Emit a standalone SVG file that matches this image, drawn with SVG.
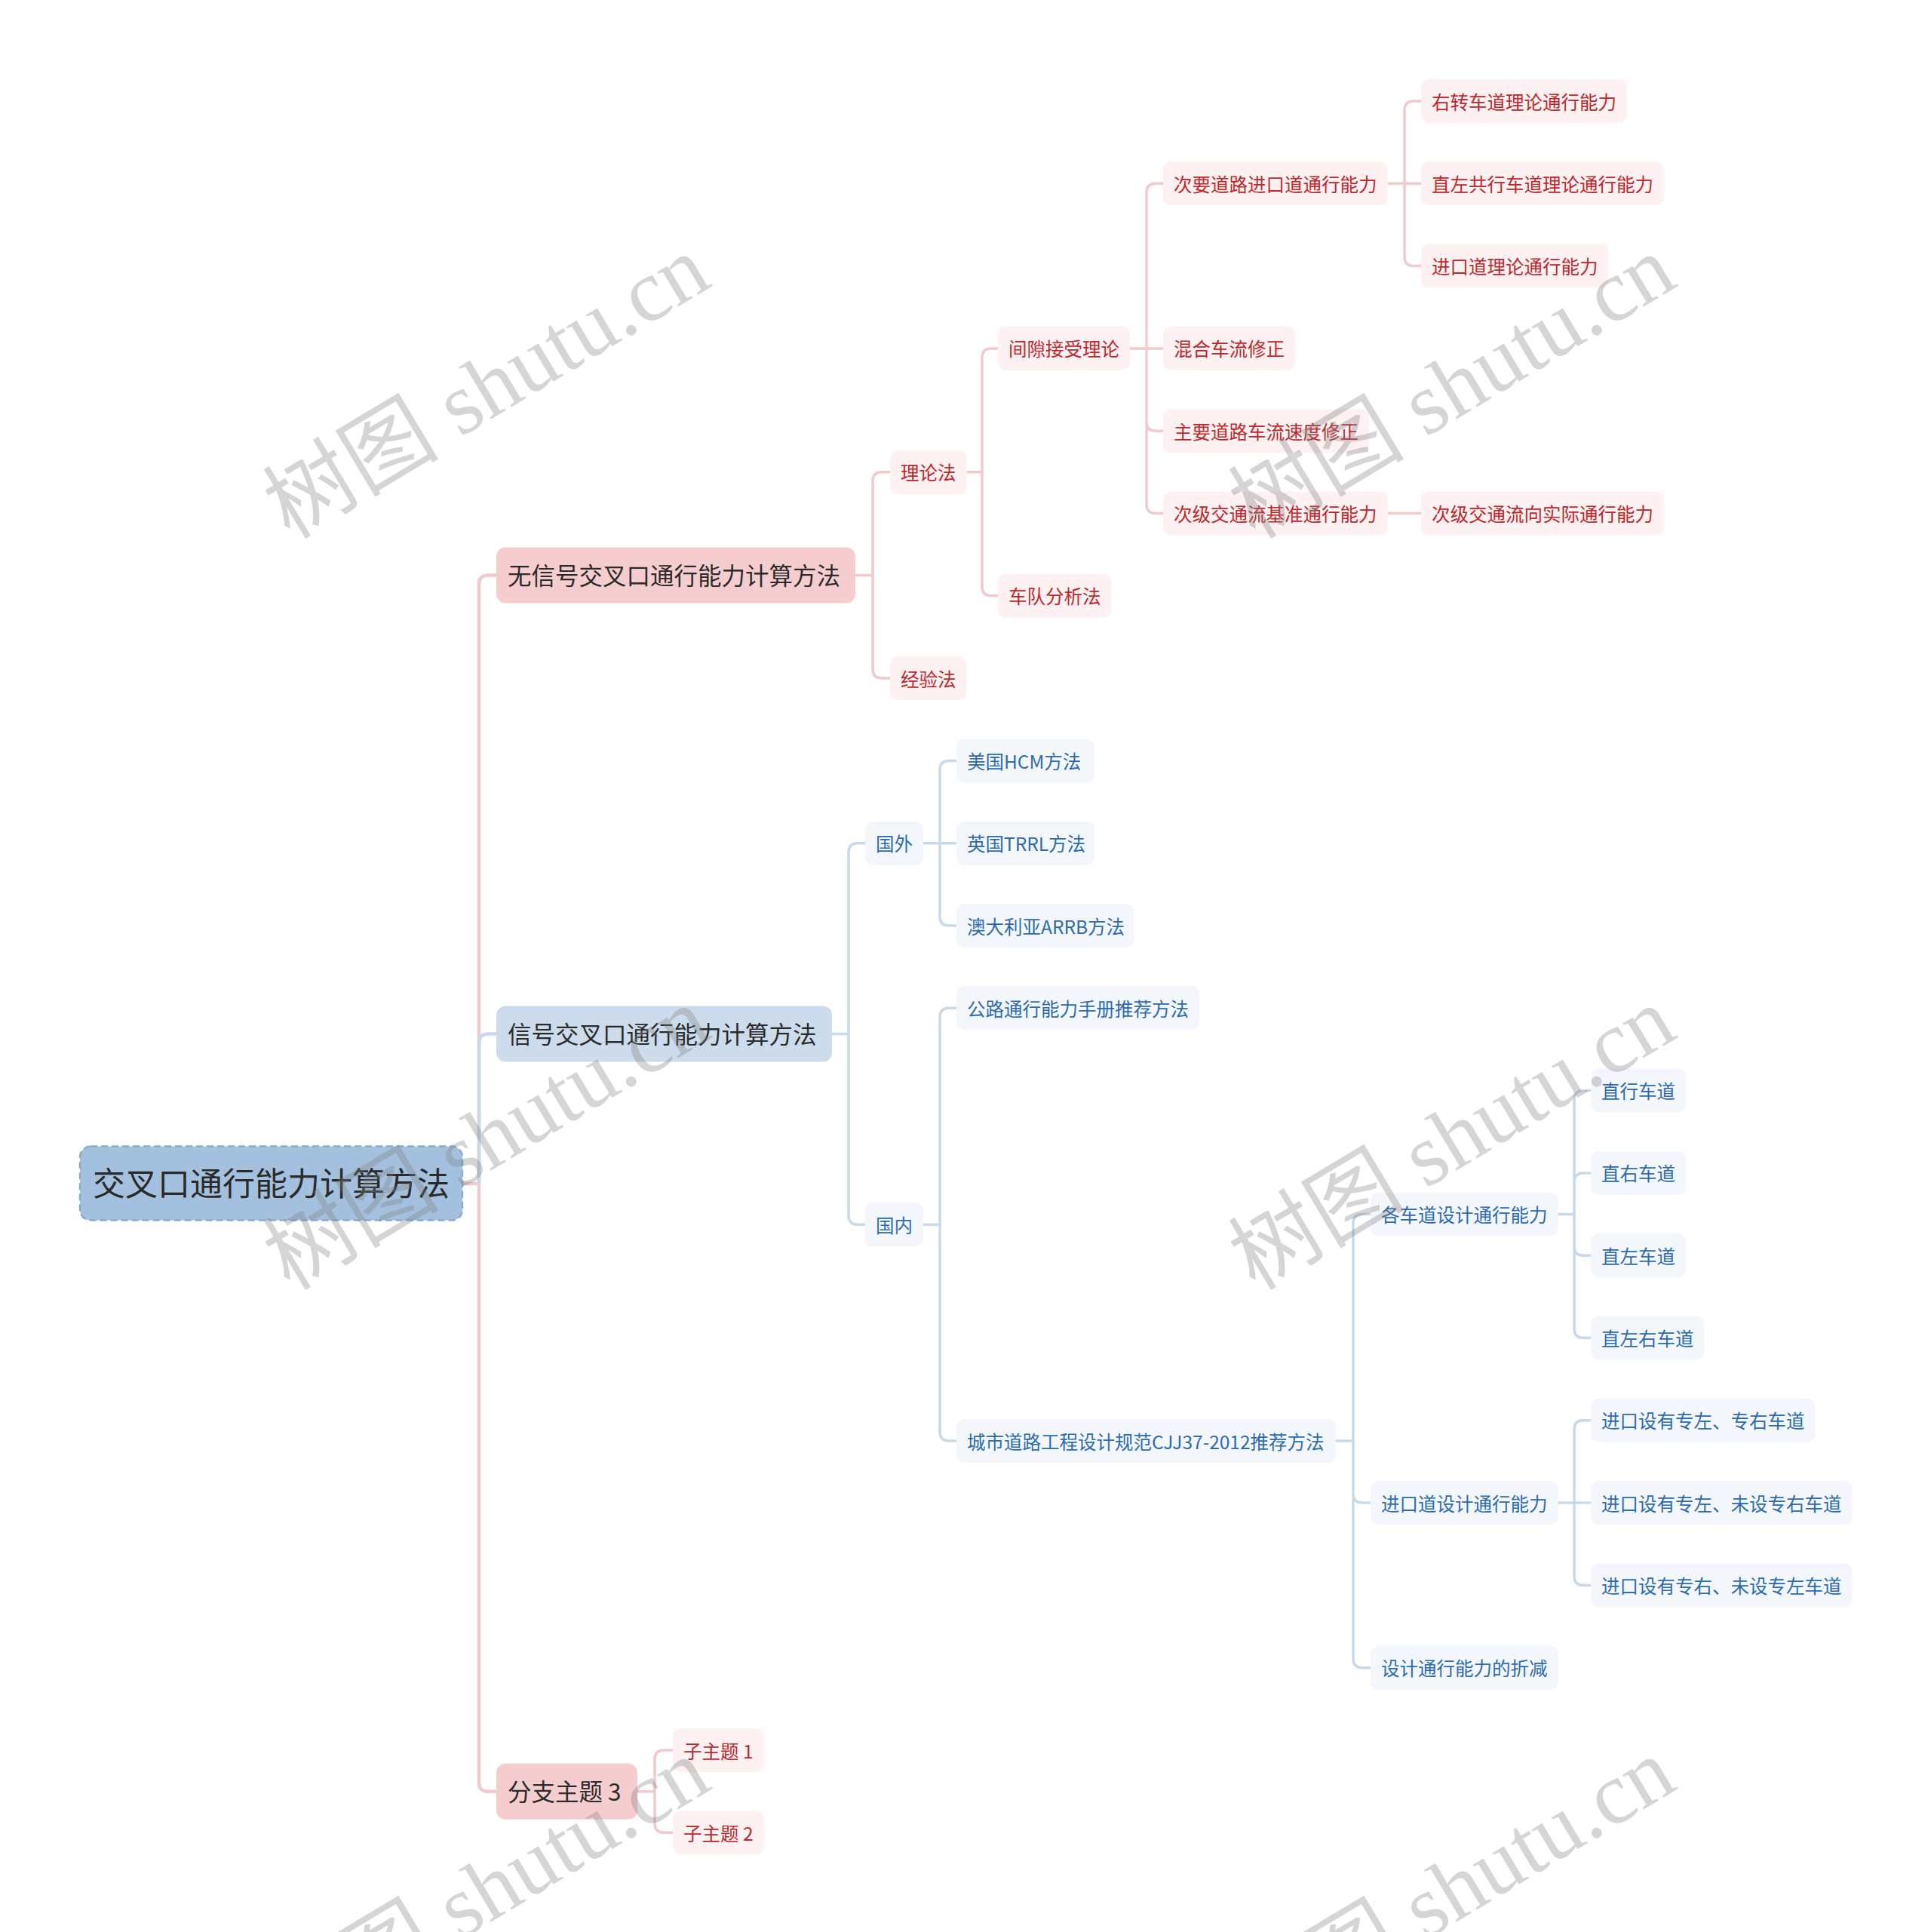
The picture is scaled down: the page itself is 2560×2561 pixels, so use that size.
<svg xmlns="http://www.w3.org/2000/svg" width="2560" height="2561" viewBox="0 0 2560 2561">
<style>
text{font-family:"Noto Sans CJK SC","Noto Sans",sans-serif;dominant-baseline:central}
.root rect{fill:#a3c0de;stroke:#8aabcf;stroke-width:2.5;stroke-dasharray:9 5}
.root text{font-size:43px;fill:#2a2a2a;text-anchor:middle}
.br rect{fill:#f5cdce}
.bb rect{fill:#ccdcec}
.br text,.bb text{font-size:31.5px;fill:#2b2b2b}
.lr rect{fill:#fdf1f1}
.lr text{font-size:24.5px;fill:#c0272d}
.lb rect{fill:#f3f7fb}
.lb text{font-size:24.5px;fill:#2d6bb0}
.cr{fill:none;stroke:#f0cacc;stroke-width:3.5}
.cb{fill:none;stroke:#c9d9e9;stroke-width:3.5}
.trunk{stroke-width:4.5}
.wm{font-family:"Liberation Serif","Noto Sans CJK SC",serif;font-size:117px;fill:#7f7f7f;fill-opacity:0.33;text-anchor:middle;dominant-baseline:central}
</style>
<g id="connectors">
<path class="cr trunk" d="M613,1569 H635 M635,1569 V774.5 Q635,762.5 647,762.5 H658 M635,1569 V2362.65 Q635,2374.65 647,2374.65 H658"/>
<path class="cb trunk" d="M635,1569 V1382.45 Q635,1370.45 647,1370.45 H658"/>
<path class="cr" d="M1134,762.5 H1157 M1157,762.5 V637.85 Q1157,625.85 1169,625.85 H1180 M1157,762.5 V887.1 Q1157,899.1 1169,899.1 H1180"/>
<path class="cr" d="M1281.5,625.85 H1302 M1302,625.85 V473.9 Q1302,461.9 1314,461.9 H1323 M1302,625.85 V777.8 Q1302,789.8 1314,789.8 H1323"/>
<path class="cr" d="M1498,461.9 H1542 M1520,461.9 V255.3 Q1520,243.3 1532,243.3 H1542 M1520,461.9 V559.2 Q1520,571.2 1532,571.2 H1542 M1520,461.9 V668.5 Q1520,680.5 1532,680.5 H1542"/>
<path class="cr" d="M1839.5,243.3 H1884 M1862,243.3 V146 Q1862,134 1874,134 H1884 M1862,243.3 V340.6 Q1862,352.6 1874,352.6 H1884"/>
<path class="cr" d="M1839.5,680.5 H1884"/>
<path class="cb" d="M1103,1370.45 H1125 M1125,1370.45 V1129.7 Q1125,1117.7 1137,1117.7 H1147 M1125,1370.45 V1611.2 Q1125,1623.2 1137,1623.2 H1147"/>
<path class="cb" d="M1224,1117.7 H1268 M1246,1117.7 V1020.4 Q1246,1008.4 1258,1008.4 H1268 M1246,1117.7 V1215 Q1246,1227 1258,1227 H1268"/>
<path class="cb" d="M1224,1623.2 H1246 M1246,1623.2 V1348.3 Q1246,1336.3 1258,1336.3 H1268 M1246,1623.2 V1898.1 Q1246,1910.1 1258,1910.1 H1268"/>
<path class="cb" d="M1771,1910.1 H1794 M1794,1910.1 V1621.55 Q1794,1609.55 1806,1609.55 H1817 M1794,1910.1 V1980.1 Q1794,1992.1 1806,1992.1 H1817 M1794,1910.1 V2198.7 Q1794,2210.7 1806,2210.7 H1817"/>
<path class="cb" d="M2065.5,1609.55 H2087 M2087,1609.55 V1457.6 Q2087,1445.6 2099,1445.6 H2109 M2087,1609.55 V1566.9 Q2087,1554.9 2099,1554.9 H2109 M2087,1609.55 V1652.2 Q2087,1664.2 2099,1664.2 H2109 M2087,1609.55 V1761.5 Q2087,1773.5 2099,1773.5 H2109"/>
<path class="cb" d="M2065.5,1992.1 H2109 M2087,1992.1 V1894.8 Q2087,1882.8 2099,1882.8 H2109 M2087,1992.1 V2089.4 Q2087,2101.4 2099,2101.4 H2109"/>
<path class="cr" d="M845,2374.65 H868 M868,2374.65 V2332 Q868,2320 880,2320 H892 M868,2374.65 V2417.3 Q868,2429.3 880,2429.3 H892"/>
</g>
<g id="root" class="root"><rect x="106" y="1519.6" width="507" height="98" rx="14"/><text x="359.5" y="1566">交叉口通行能力计算方法</text></g>
<g id="b1" class="br"><rect x="658" y="725.5" width="476" height="74" rx="12"/><text x="673" y="761">无信号交叉口通行能力计算方法</text></g>
<g id="b2" class="bb"><rect x="658" y="1333.45" width="445" height="74" rx="12"/><text x="673" y="1369">信号交叉口通行能力计算方法</text></g>
<g id="b3" class="br"><rect x="658" y="2337.65" width="187" height="74" rx="12"/><text x="673" y="2373">分支主题 3</text></g>
<g id="n-lilun" class="lr"><rect x="1180" y="596.85" width="101.5" height="58" rx="10"/><text x="1194" y="625.85">理论法</text></g>
<g id="n-jingyan" class="lr"><rect x="1180" y="870.1" width="101.5" height="58" rx="10"/><text x="1194" y="899.1">经验法</text></g>
<g id="n-jianxi" class="lr"><rect x="1323" y="432.9" width="175" height="58" rx="10"/><text x="1337" y="461.9">间隙接受理论</text></g>
<g id="n-chedui" class="lr"><rect x="1323" y="760.8" width="150.5" height="58" rx="10"/><text x="1337" y="789.8">车队分析法</text></g>
<g id="n-ciyao" class="lr"><rect x="1542" y="214.3" width="297.5" height="58" rx="10"/><text x="1556" y="243.3">次要道路进口道通行能力</text></g>
<g id="n-hunhe" class="lr"><rect x="1542" y="432.9" width="175" height="58" rx="10"/><text x="1556" y="461.9">混合车流修正</text></g>
<g id="n-zhuyao" class="lr"><rect x="1542" y="542.2" width="273" height="58" rx="10"/><text x="1556" y="571.2">主要道路车流速度修正</text></g>
<g id="n-jizhun" class="lr"><rect x="1542" y="651.5" width="297.5" height="58" rx="10"/><text x="1556" y="680.5">次级交通流基准通行能力</text></g>
<g id="n-youzhuan" class="lr"><rect x="1884" y="105" width="273" height="58" rx="10"/><text x="1898" y="134">右转车道理论通行能力</text></g>
<g id="n-zhizuo" class="lr"><rect x="1884" y="214.3" width="322" height="58" rx="10"/><text x="1898" y="243.3">直左共行车道理论通行能力</text></g>
<g id="n-jinkou" class="lr"><rect x="1884" y="323.6" width="248.5" height="58" rx="10"/><text x="1898" y="352.6">进口道理论通行能力</text></g>
<g id="n-shiji" class="lr"><rect x="1884" y="651.5" width="322" height="58" rx="10"/><text x="1898" y="680.5">次级交通流向实际通行能力</text></g>
<g id="n-guowai" class="lb"><rect x="1147" y="1088.7" width="77" height="58" rx="10"/><text x="1161" y="1117.7">国外</text></g>
<g id="n-guonei" class="lb"><rect x="1147" y="1594.2" width="77" height="58" rx="10"/><text x="1161" y="1623.2">国内</text></g>
<g id="n-hcm" class="lb"><rect x="1268" y="979.4" width="183" height="58" rx="10"/><text x="1282" y="1008.4">美国HCM方法</text></g>
<g id="n-trrl" class="lb"><rect x="1268" y="1088.7" width="183" height="58" rx="10"/><text x="1282" y="1117.7">英国TRRL方法</text></g>
<g id="n-arrb" class="lb"><rect x="1268" y="1198" width="235" height="58" rx="10"/><text x="1282" y="1227">澳大利亚ARRB方法</text></g>
<g id="n-gonglu" class="lb"><rect x="1268" y="1307.3" width="322" height="58" rx="10"/><text x="1282" y="1336.3">公路通行能力手册推荐方法</text></g>
<g id="n-chengshi" class="lb"><rect x="1268" y="1881.1" width="503" height="58" rx="10"/><text x="1282" y="1910.1">城市道路工程设计规范CJJ37-2012推荐方法</text></g>
<g id="n-gechedao" class="lb"><rect x="1817" y="1580.55" width="248.5" height="58" rx="10"/><text x="1831" y="1609.55">各车道设计通行能力</text></g>
<g id="n-jinkoudao" class="lb"><rect x="1817" y="1963.1" width="248.5" height="58" rx="10"/><text x="1831" y="1992.1">进口道设计通行能力</text></g>
<g id="n-zhejian" class="lb"><rect x="1817" y="2181.7" width="248.5" height="58" rx="10"/><text x="1831" y="2210.7">设计通行能力的折减</text></g>
<g id="n-zhixing" class="lb"><rect x="2109" y="1416.6" width="126" height="58" rx="10"/><text x="2123" y="1445.6">直行车道</text></g>
<g id="n-zhiyou" class="lb"><rect x="2109" y="1525.9" width="126" height="58" rx="10"/><text x="2123" y="1554.9">直右车道</text></g>
<g id="n-zhizuocd" class="lb"><rect x="2109" y="1635.2" width="126" height="58" rx="10"/><text x="2123" y="1664.2">直左车道</text></g>
<g id="n-zhizuoyou" class="lb"><rect x="2109" y="1744.5" width="150.5" height="58" rx="10"/><text x="2123" y="1773.5">直左右车道</text></g>
<g id="n-zuoyou" class="lb"><rect x="2109" y="1853.8" width="297.5" height="58" rx="10"/><text x="2123" y="1882.8">进口设有专左、专右车道</text></g>
<g id="n-zuoweiyou" class="lb"><rect x="2109" y="1963.1" width="346.5" height="58" rx="10"/><text x="2123" y="1992.1">进口设有专左、未设专右车道</text></g>
<g id="n-youweizuo" class="lb"><rect x="2109" y="2072.4" width="346.5" height="58" rx="10"/><text x="2123" y="2101.4">进口设有专右、未设专左车道</text></g>
<g id="n-zi1" class="lr"><rect x="892" y="2291" width="121" height="58" rx="10"/><text x="906" y="2320">子主题 1</text></g>
<g id="n-zi2" class="lr"><rect x="892" y="2400.3" width="121" height="58" rx="10"/><text x="906" y="2429.3">子主题 2</text></g>
<g id="watermarks">
<text class="wm" transform="translate(645,513) rotate(-31)">树图 shutu.cn</text>
<text class="wm" transform="translate(1925,513) rotate(-31)">树图 shutu.cn</text>
<text class="wm" transform="translate(645,1509) rotate(-31)">树图 shutu.cn</text>
<text class="wm" transform="translate(1925,1509) rotate(-31)">树图 shutu.cn</text>
<text class="wm" transform="translate(645,2505) rotate(-31)">树图 shutu.cn</text>
<text class="wm" transform="translate(1925,2505) rotate(-31)">树图 shutu.cn</text>
</g>
</svg>
